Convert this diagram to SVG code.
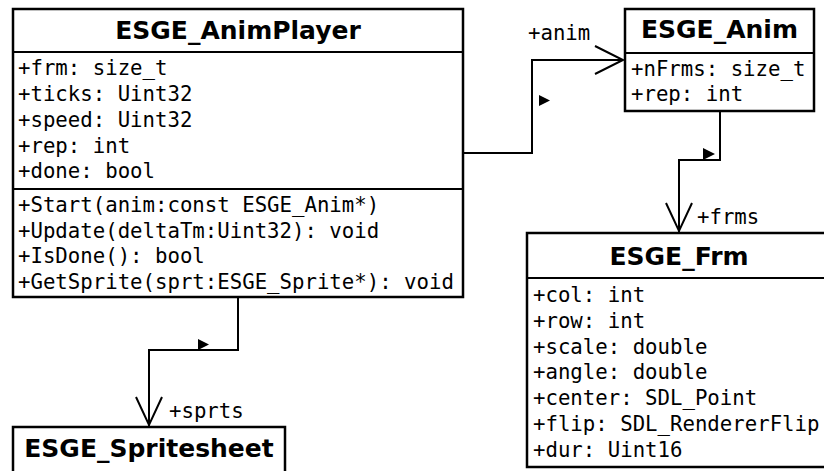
<svg xmlns="http://www.w3.org/2000/svg" width="824" height="471" viewBox="0 0 824 471">
  <style>
    .box { fill: #ffffff; stroke: #000000; stroke-width: 2.5; }
    .sep { stroke: #000000; stroke-width: 2; }
    .title { font-family: "DejaVu Sans", "Liberation Sans", sans-serif; font-weight: bold; font-size: 25px; text-anchor: middle; fill: #000000; }
    .mem { font-family: "DejaVu Sans Mono", "Liberation Mono", monospace; font-size: 20.7px; fill: #000000; }
    .edge { fill: none; stroke: #000000; stroke-width: 2; }
    .dir { fill: #000000; stroke: none; }
  </style>
  <rect width="824" height="471" fill="#ffffff"/>

  <!-- association connectors -->
  <g id="connectors">
    <!-- AnimPlayer -> Anim -->
    <polyline class="edge" points="463,153 532,153 532,60 623,60"/>
    <polyline class="edge" points="595,46 623,60 595,74"/>
    <polygon class="dir" points="539,95 550,100.5 539,106"/>
    <text class="mem" x="528" y="39.5">+anim</text>

    <!-- Anim -> Frm -->
    <polyline class="edge" points="720,111 720,160 679,160 679,232"/>
    <polyline class="edge" points="666,203 679,231 692,203"/>
    <polygon class="dir" points="703,148 715,154 703,160"/>
    <text class="mem" x="697" y="224">+frms</text>

    <!-- AnimPlayer -> Spritesheet -->
    <polyline class="edge" points="238,297 238,350 149,350 149,426"/>
    <polyline class="edge" points="136,397 149,425 162,397"/>
    <polygon class="dir" points="198,339 209,344.5 198,350"/>
    <text class="mem" x="169" y="418">+sprts</text>
  </g>

  <g id="ESGE_AnimPlayer">
    <rect class="box" x="13" y="9" width="450" height="288"/>
    <line class="sep" x1="13" y1="52" x2="463" y2="52"/>
    <line class="sep" x1="13" y1="189" x2="463" y2="189"/>
    <text class="title" x="238" y="39">ESGE_AnimPlayer</text>
    <text class="mem" x="18" y="75">+frm: size_t</text>
    <text class="mem" x="18" y="100.5">+ticks: Uint32</text>
    <text class="mem" x="18" y="126.5">+speed: Uint32</text>
    <text class="mem" x="18" y="152.5">+rep: int</text>
    <text class="mem" x="18" y="178">+done: bool</text>
    <text class="mem" x="18" y="212">+Start(anim:const ESGE_Anim*)</text>
    <text class="mem" x="18" y="237.5">+Update(deltaTm:Uint32): void</text>
    <text class="mem" x="18" y="263">+IsDone(): bool</text>
    <text class="mem" x="18" y="288.5">+GetSprite(sprt:ESGE_Sprite*): void</text>
  </g>

  <g id="ESGE_Anim">
    <rect class="box" x="625" y="9" width="189" height="102"/>
    <line class="sep" x1="625" y1="53" x2="814" y2="53"/>
    <text class="title" x="719.5" y="38">ESGE_Anim</text>
    <text class="mem" x="631" y="76">+nFrms: size_t</text>
    <text class="mem" x="631" y="100.5">+rep: int</text>
  </g>

  <g id="ESGE_Frm">
    <rect class="box" x="527" y="233" width="310" height="234"/>
    <line class="sep" x1="527" y1="278" x2="837" y2="278"/>
    <text class="title" x="679" y="265">ESGE_Frm</text>
    <text class="mem" x="533" y="302">+col: int</text>
    <text class="mem" x="533" y="327.5">+row: int</text>
    <text class="mem" x="533" y="353.5">+scale: double</text>
    <text class="mem" x="533" y="379">+angle: double</text>
    <text class="mem" x="533" y="405">+center: SDL_Point</text>
    <text class="mem" x="533" y="431">+flip: SDL_RendererFlip</text>
    <text class="mem" x="533" y="457">+dur: Uint16</text>
  </g>

  <g id="ESGE_Spritesheet">
    <rect class="box" x="13" y="427" width="272" height="60"/>
    <text class="title" x="149" y="457">ESGE_Spritesheet</text>
  </g>
</svg>
